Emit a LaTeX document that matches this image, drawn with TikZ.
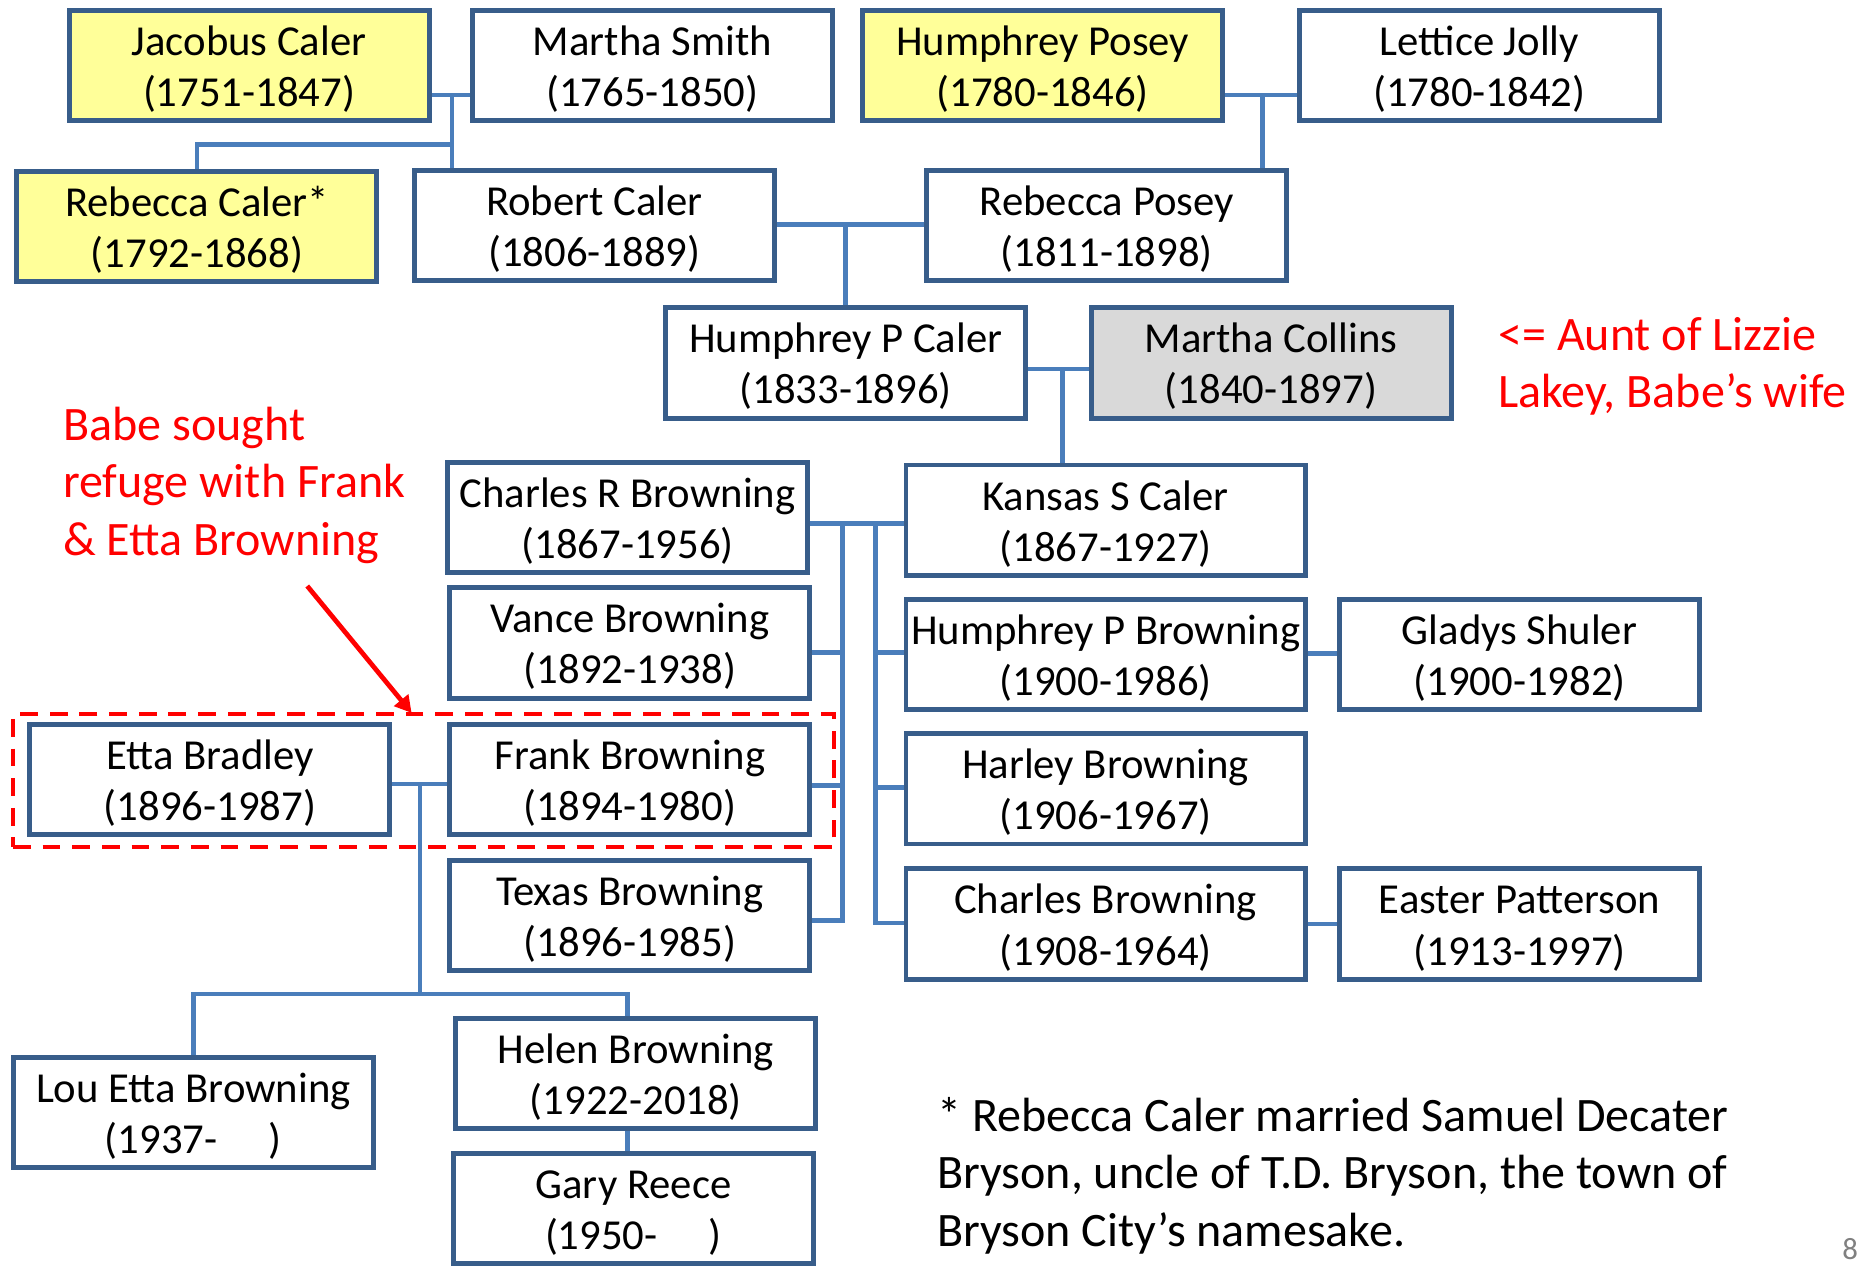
\documentclass[tikz,border=0pt]{standalone}
\usepackage{fontspec}
\setmainfont{Carlito}
\usetikzlibrary{arrows.meta,calc}
\definecolor{boxc}{HTML}{385D8A}
\definecolor{connc}{HTML}{4A7EBB}
\definecolor{yellowc}{HTML}{FFFF99}
\definecolor{grayc}{HTML}{D9D9D9}
\newcommand{\ptext}[2]{\rule{0pt}{38pt}#1\\#2\rule[-12pt]{0pt}{0pt}}
\begin{document}
\begin{tikzpicture}[x=1pt,y=-1pt,
 person/.style={draw=boxc, line width=4.2pt, fill=white, minimum width=303.5pt, minimum height=92.5pt, inner sep=0pt, align=center, font=\fontsize{36}{43}\selectfont},
 wide/.style={minimum width=336.5pt},
 anc/.style={fill=yellowc},
 conn/.style={draw=connc, line width=4pt},
 note/.style={text=red, align=left, anchor=west, inner sep=0pt, font=\fontsize{40.5}{48.5}\selectfont}]
\useasboundingbox (0,0) rectangle (1568,1067);
% row 1
\node[person,anc] (jacobus) at (210,55) {\ptext{Jacobus Caler}{(1751-1847)}};
\node[person] (martha) at (550,55) {\ptext{Martha Smith}{(1765-1850)}};
\node[person,anc] (hposey) at (879,55) {\ptext{Humphrey Posey}{(1780-1846)}};
\node[person] (lettice) at (1247,55) {\ptext{Lettice Jolly}{(1780-1842)}};
% row 2
\node[person,anc] (rcaler) at (166,191) {\ptext{Rebecca Caler*}{(1792-1868)}};
\node[person] (robert) at (501,190) {\ptext{Robert Caler}{(1806-1889)}};
\node[person] (rposey) at (933,190) {\ptext{Rebecca Posey}{(1811-1898)}};
% row 3
\node[person] (hpcaler) at (713,306) {\ptext{Humphrey P Caler}{(1833-1896)}};
\node[person,fill=grayc] (mcollins) at (1071.5,306) {\ptext{Martha Collins}{(1840-1897)}};
% children
\node[person] (charlesR) at (529,436) {\ptext{Charles R Browning}{(1867-1956)}};
\node[person,wide] (kansas) at (932,438.5) {\ptext{Kansas S Caler}{(1867-1927)}};
\node[person] (vance) at (531,542) {\ptext{Vance Browning}{(1892-1938)}};
\node[person] (frank) at (531,657) {\ptext{Frank Browning}{(1894-1980)}};
\node[person] (texas) at (531,772) {\ptext{Texas Browning}{(1896-1985)}};
\node[person] (etta) at (177,657) {\ptext{Etta Bradley}{(1896-1987)}};
\node[person,wide] (hpb) at (932,552) {\ptext{Humphrey P Browning}{(1900-1986)}};
\node[person] (gladys) at (1281,552) {\ptext{Gladys Shuler}{(1900-1982)}};
\node[person,wide] (harley) at (932,665) {\ptext{Harley Browning}{(1906-1967)}};
\node[person,wide] (charlesB) at (932,779) {\ptext{Charles Browning}{(1908-1964)}};
\node[person] (easter) at (1281,779) {\ptext{Easter Patterson}{(1913-1997)}};
\node[person] (louetta) at (163,938) {\ptext{Lou Etta Browning}{(1937-\hspace{1.2em})}};
\node[person] (helen) at (536,905) {\ptext{Helen Browning}{(1922-2018)}};
\node[person] (gary) at (534,1019) {\ptext{Gary Reece}{(1950-\hspace{1.2em})}};
% connectors
\coordinate (j1) at (381,80);
\coordinate (j1b) at (381,122);
\draw[conn] (jacobus.east |- j1) -- (martha.west |- j1);
\draw[conn] (j1) -- (robert.north -| j1);
\draw[conn] (j1b) -- (j1b -| rcaler.north) -- (rcaler.north);
\coordinate (j2) at (1064,80);
\draw[conn] (hposey.east |- j2) -- (lettice.west |- j2);
\draw[conn] (j2) -- (rposey.north -| j2);
\coordinate (j3) at (713,189);
\draw[conn] (robert.east |- j3) -- (rposey.west |- j3);
\draw[conn] (j3) -- (hpcaler.north -| j3);
\coordinate (j4) at (896,311);
\draw[conn] (hpcaler.east |- j4) -- (mcollins.west |- j4);
\draw[conn] (j4) -- (kansas.north -| j4);
\coordinate (v1) at (710,441);
\coordinate (v2) at (738,441);
\coordinate (v1b) at (710,776);
\coordinate (v2b) at (738,778);
\draw[conn] (charlesR.east |- v1) -- (kansas.west |- v1);
\draw[conn] (v1) -- (v1b) -- (texas.east |- v1b);
\draw[conn] (vance.east |- 0,550) -- (v1 |- 0,550);
\draw[conn] (frank.east |- 0,662) -- (v1 |- 0,662);
\draw[conn] (v2) -- (v2b) -- (charlesB.west |- v2b);
\draw[conn] (v2 |- 0,550) -- (hpb.west |- 0,550);
\draw[conn] (v2 |- 0,664) -- (harley.west |- 0,664);
\draw[conn] (hpb.east |- 0,551) -- (gladys.west |- 0,551);
\draw[conn] (charlesB.east |- 0,779) -- (easter.west |- 0,779);
\coordinate (e1) at (354,661);
\coordinate (e2) at (354,838);
\draw[conn] (etta.east |- e1) -- (frank.west |- e1);
\draw[conn] (e1) -- (e2);
\coordinate (e3) at (529,838);
\draw[conn] (louetta.north) -- (louetta.north |- e2) -- (e3) -- (helen.north -| e3);
\draw[conn] (helen.south -| e3) -- (gary.north -| e3);
% red annotations
\node[draw=red, dash pattern=on 15pt off 10pt, line width=3.5pt, minimum width=692pt, minimum height=112pt, inner sep=0pt] (focus) at (357,658) {};
\node[note] (babe) at (53,409) {Babe sought\\refuge with Frank\\\& Etta Browning};
\coordinate (arrtip) at (347,601);
\coordinate (arrstart) at (259,494);
\draw[red, line width=4pt, -{Triangle[length=14pt,width=15pt]}] (arrstart) -- (arrtip);
\node[note] (aunt) at (1263,309) {<= Aunt of Lizzie\\Lakey, Babe’s wife};
\node[anchor=west, align=left, inner sep=0pt, font=\fontsize{40.5}{48.5}\selectfont] (foot) at (790,991) {* Rebecca Caler married Samuel Decater\\Bryson, uncle of T.D. Bryson, the town of\\Bryson City’s namesake.};
\node[anchor=west, inner sep=0pt, text=gray, font=\fontsize{26}{30}\selectfont] (pnum) at (1553,1053) {8};
\end{tikzpicture}
\end{document}
